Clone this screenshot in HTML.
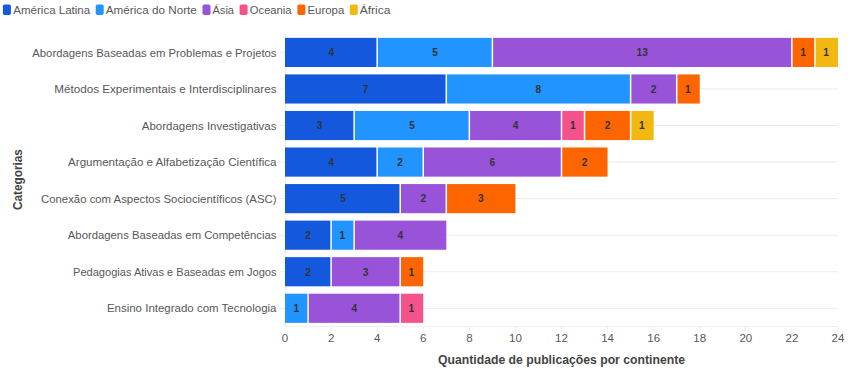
<!DOCTYPE html><html><head><meta charset="utf-8"><style>html,body{margin:0;padding:0;background:#fff;width:850px;height:370px;overflow:hidden}svg{display:block}</style></head><body>
<svg width="850" height="370" viewBox="0 0 850 370" style="font-family:'Liberation Sans', sans-serif">
<line x1="285.0" x2="838.0" y1="52.42" y2="52.42" stroke="#ebebeb" stroke-width="1"/>
<line x1="280" x2="285.0" y1="52.42" y2="52.42" stroke="#ebebeb" stroke-width="1"/>
<line x1="285.0" x2="838.0" y1="88.97" y2="88.97" stroke="#ebebeb" stroke-width="1"/>
<line x1="280" x2="285.0" y1="88.97" y2="88.97" stroke="#ebebeb" stroke-width="1"/>
<line x1="285.0" x2="838.0" y1="125.53" y2="125.53" stroke="#ebebeb" stroke-width="1"/>
<line x1="280" x2="285.0" y1="125.53" y2="125.53" stroke="#ebebeb" stroke-width="1"/>
<line x1="285.0" x2="838.0" y1="162.08" y2="162.08" stroke="#ebebeb" stroke-width="1"/>
<line x1="280" x2="285.0" y1="162.08" y2="162.08" stroke="#ebebeb" stroke-width="1"/>
<line x1="285.0" x2="838.0" y1="198.63" y2="198.63" stroke="#ebebeb" stroke-width="1"/>
<line x1="280" x2="285.0" y1="198.63" y2="198.63" stroke="#ebebeb" stroke-width="1"/>
<line x1="285.0" x2="838.0" y1="235.18" y2="235.18" stroke="#ebebeb" stroke-width="1"/>
<line x1="280" x2="285.0" y1="235.18" y2="235.18" stroke="#ebebeb" stroke-width="1"/>
<line x1="285.0" x2="838.0" y1="271.73" y2="271.73" stroke="#ebebeb" stroke-width="1"/>
<line x1="280" x2="285.0" y1="271.73" y2="271.73" stroke="#ebebeb" stroke-width="1"/>
<line x1="285.0" x2="838.0" y1="308.28" y2="308.28" stroke="#ebebeb" stroke-width="1"/>
<line x1="280" x2="285.0" y1="308.28" y2="308.28" stroke="#ebebeb" stroke-width="1"/>
<line x1="285.0" x2="838.0" y1="326.5" y2="326.5" stroke="#eeeeee" stroke-width="1"/>
<line x1="285.5" x2="285.5" y1="34" y2="326.5" stroke="#ebebeb" stroke-width="1"/>
<line x1="285.00" x2="285.00" y1="326.5" y2="332" stroke="#eeeeee" stroke-width="1"/>
<line x1="331.08" x2="331.08" y1="326.5" y2="332" stroke="#eeeeee" stroke-width="1"/>
<line x1="377.17" x2="377.17" y1="326.5" y2="332" stroke="#eeeeee" stroke-width="1"/>
<line x1="423.25" x2="423.25" y1="326.5" y2="332" stroke="#eeeeee" stroke-width="1"/>
<line x1="469.33" x2="469.33" y1="326.5" y2="332" stroke="#eeeeee" stroke-width="1"/>
<line x1="515.42" x2="515.42" y1="326.5" y2="332" stroke="#eeeeee" stroke-width="1"/>
<line x1="561.50" x2="561.50" y1="326.5" y2="332" stroke="#eeeeee" stroke-width="1"/>
<line x1="607.58" x2="607.58" y1="326.5" y2="332" stroke="#eeeeee" stroke-width="1"/>
<line x1="653.67" x2="653.67" y1="326.5" y2="332" stroke="#eeeeee" stroke-width="1"/>
<line x1="699.75" x2="699.75" y1="326.5" y2="332" stroke="#eeeeee" stroke-width="1"/>
<line x1="745.83" x2="745.83" y1="326.5" y2="332" stroke="#eeeeee" stroke-width="1"/>
<line x1="791.92" x2="791.92" y1="326.5" y2="332" stroke="#eeeeee" stroke-width="1"/>
<line x1="838.00" x2="838.00" y1="326.5" y2="332" stroke="#eeeeee" stroke-width="1"/>
<rect x="285.00" y="37.85" width="92.17" height="29.15" fill="#1459dd"/>
<text x="331.23" y="56.22" text-anchor="middle" font-size="10.2" font-weight="bold" fill="#333">4</text>
<rect x="377.17" y="37.85" width="115.21" height="29.15" fill="#2194ff"/>
<text x="435.17" y="56.22" text-anchor="middle" font-size="10.2" font-weight="bold" fill="#333">5</text>
<rect x="492.38" y="37.85" width="299.54" height="29.15" fill="#9853d9"/>
<text x="642.15" y="56.22" text-anchor="middle" font-size="10.2" font-weight="bold" fill="#333">13</text>
<rect x="791.92" y="37.85" width="23.04" height="29.15" fill="#fd6500"/>
<text x="803.14" y="56.22" text-anchor="middle" font-size="10.2" font-weight="bold" fill="#333">1</text>
<rect x="814.96" y="37.85" width="23.04" height="29.15" fill="#f2b711"/>
<text x="826.18" y="56.22" text-anchor="middle" font-size="10.2" font-weight="bold" fill="#333">1</text>
<line x1="377.17" x2="377.17" y1="37.35" y2="67.50" stroke="#fff" stroke-width="1.5"/>
<line x1="492.38" x2="492.38" y1="37.35" y2="67.50" stroke="#fff" stroke-width="1.5"/>
<line x1="791.92" x2="791.92" y1="37.35" y2="67.50" stroke="#fff" stroke-width="1.5"/>
<line x1="814.96" x2="814.96" y1="37.35" y2="67.50" stroke="#fff" stroke-width="1.5"/>
<text x="276.5" y="56.62" text-anchor="end" font-size="11.4" fill="#575757" textLength="244.2" lengthAdjust="spacingAndGlyphs">Abordagens Baseadas em Problemas e Projetos</text>
<rect x="285.00" y="74.40" width="161.29" height="29.15" fill="#1459dd"/>
<text x="365.65" y="92.77" text-anchor="middle" font-size="10.2" font-weight="bold" fill="#333">7</text>
<rect x="446.29" y="74.40" width="184.33" height="29.15" fill="#2194ff"/>
<text x="538.46" y="92.77" text-anchor="middle" font-size="10.2" font-weight="bold" fill="#333">8</text>
<rect x="630.62" y="74.40" width="46.08" height="29.15" fill="#9853d9"/>
<text x="653.67" y="92.77" text-anchor="middle" font-size="10.2" font-weight="bold" fill="#333">2</text>
<rect x="676.71" y="74.40" width="23.04" height="29.15" fill="#fd6500"/>
<text x="687.93" y="92.77" text-anchor="middle" font-size="10.2" font-weight="bold" fill="#333">1</text>
<line x1="446.29" x2="446.29" y1="73.90" y2="104.05" stroke="#fff" stroke-width="1.5"/>
<line x1="630.62" x2="630.62" y1="73.90" y2="104.05" stroke="#fff" stroke-width="1.5"/>
<line x1="676.71" x2="676.71" y1="73.90" y2="104.05" stroke="#fff" stroke-width="1.5"/>
<text x="276.5" y="93.17" text-anchor="end" font-size="11.4" fill="#575757" textLength="222.2" lengthAdjust="spacingAndGlyphs">Métodos Experimentais e Interdisciplinares</text>
<rect x="285.00" y="110.95" width="69.12" height="29.15" fill="#1459dd"/>
<text x="319.56" y="129.33" text-anchor="middle" font-size="10.2" font-weight="bold" fill="#333">3</text>
<rect x="354.12" y="110.95" width="115.21" height="29.15" fill="#2194ff"/>
<text x="412.13" y="129.33" text-anchor="middle" font-size="10.2" font-weight="bold" fill="#333">5</text>
<rect x="469.33" y="110.95" width="92.17" height="29.15" fill="#9853d9"/>
<text x="515.57" y="129.33" text-anchor="middle" font-size="10.2" font-weight="bold" fill="#333">4</text>
<rect x="561.50" y="110.95" width="23.04" height="29.15" fill="#f4528a"/>
<text x="572.72" y="129.33" text-anchor="middle" font-size="10.2" font-weight="bold" fill="#333">1</text>
<rect x="584.54" y="110.95" width="46.08" height="29.15" fill="#fd6500"/>
<text x="607.58" y="129.33" text-anchor="middle" font-size="10.2" font-weight="bold" fill="#333">2</text>
<rect x="630.62" y="110.95" width="23.04" height="29.15" fill="#f2b711"/>
<text x="641.85" y="129.33" text-anchor="middle" font-size="10.2" font-weight="bold" fill="#333">1</text>
<line x1="354.12" x2="354.12" y1="110.45" y2="140.60" stroke="#fff" stroke-width="1.5"/>
<line x1="469.33" x2="469.33" y1="110.45" y2="140.60" stroke="#fff" stroke-width="1.5"/>
<line x1="561.50" x2="561.50" y1="110.45" y2="140.60" stroke="#fff" stroke-width="1.5"/>
<line x1="584.54" x2="584.54" y1="110.45" y2="140.60" stroke="#fff" stroke-width="1.5"/>
<line x1="630.62" x2="630.62" y1="110.45" y2="140.60" stroke="#fff" stroke-width="1.5"/>
<text x="276.5" y="129.72" text-anchor="end" font-size="11.4" fill="#575757" textLength="134.7" lengthAdjust="spacingAndGlyphs">Abordagens Investigativas</text>
<rect x="285.00" y="147.50" width="92.17" height="29.15" fill="#1459dd"/>
<text x="331.23" y="165.88" text-anchor="middle" font-size="10.2" font-weight="bold" fill="#333">4</text>
<rect x="377.17" y="147.50" width="46.08" height="29.15" fill="#2194ff"/>
<text x="400.21" y="165.88" text-anchor="middle" font-size="10.2" font-weight="bold" fill="#333">2</text>
<rect x="423.25" y="147.50" width="138.25" height="29.15" fill="#9853d9"/>
<text x="492.38" y="165.88" text-anchor="middle" font-size="10.2" font-weight="bold" fill="#333">6</text>
<rect x="561.50" y="147.50" width="46.08" height="29.15" fill="#fd6500"/>
<text x="584.54" y="165.88" text-anchor="middle" font-size="10.2" font-weight="bold" fill="#333">2</text>
<line x1="377.17" x2="377.17" y1="147.00" y2="177.15" stroke="#fff" stroke-width="1.5"/>
<line x1="423.25" x2="423.25" y1="147.00" y2="177.15" stroke="#fff" stroke-width="1.5"/>
<line x1="561.50" x2="561.50" y1="147.00" y2="177.15" stroke="#fff" stroke-width="1.5"/>
<text x="276.5" y="166.28" text-anchor="end" font-size="11.4" fill="#575757" textLength="208.4" lengthAdjust="spacingAndGlyphs">Argumentação e Alfabetização Científica</text>
<rect x="285.00" y="184.05" width="115.21" height="29.15" fill="#1459dd"/>
<text x="343.00" y="202.43" text-anchor="middle" font-size="10.2" font-weight="bold" fill="#333">5</text>
<rect x="400.21" y="184.05" width="46.08" height="29.15" fill="#9853d9"/>
<text x="423.25" y="202.43" text-anchor="middle" font-size="10.2" font-weight="bold" fill="#333">2</text>
<rect x="446.29" y="184.05" width="69.13" height="29.15" fill="#fd6500"/>
<text x="480.85" y="202.43" text-anchor="middle" font-size="10.2" font-weight="bold" fill="#333">3</text>
<line x1="400.21" x2="400.21" y1="183.55" y2="213.70" stroke="#fff" stroke-width="1.5"/>
<line x1="446.29" x2="446.29" y1="183.55" y2="213.70" stroke="#fff" stroke-width="1.5"/>
<text x="276.5" y="202.83" text-anchor="end" font-size="11.4" fill="#575757" textLength="235.5" lengthAdjust="spacingAndGlyphs">Conexão com Aspectos Sociocientíficos (ASC)</text>
<rect x="285.00" y="220.60" width="46.08" height="29.15" fill="#1459dd"/>
<text x="308.04" y="238.98" text-anchor="middle" font-size="10.2" font-weight="bold" fill="#333">2</text>
<rect x="331.08" y="220.60" width="23.04" height="29.15" fill="#2194ff"/>
<text x="342.30" y="238.98" text-anchor="middle" font-size="10.2" font-weight="bold" fill="#333">1</text>
<rect x="354.12" y="220.60" width="92.17" height="29.15" fill="#9853d9"/>
<text x="400.36" y="238.98" text-anchor="middle" font-size="10.2" font-weight="bold" fill="#333">4</text>
<line x1="331.08" x2="331.08" y1="220.10" y2="250.25" stroke="#fff" stroke-width="1.5"/>
<line x1="354.12" x2="354.12" y1="220.10" y2="250.25" stroke="#fff" stroke-width="1.5"/>
<text x="276.5" y="239.38" text-anchor="end" font-size="11.4" fill="#575757" textLength="208.7" lengthAdjust="spacingAndGlyphs">Abordagens Baseadas em Competências</text>
<rect x="285.00" y="257.15" width="46.08" height="29.15" fill="#1459dd"/>
<text x="308.04" y="275.53" text-anchor="middle" font-size="10.2" font-weight="bold" fill="#333">2</text>
<rect x="331.08" y="257.15" width="69.13" height="29.15" fill="#9853d9"/>
<text x="365.65" y="275.53" text-anchor="middle" font-size="10.2" font-weight="bold" fill="#333">3</text>
<rect x="400.21" y="257.15" width="23.04" height="29.15" fill="#fd6500"/>
<text x="411.43" y="275.53" text-anchor="middle" font-size="10.2" font-weight="bold" fill="#333">1</text>
<line x1="331.08" x2="331.08" y1="256.65" y2="286.80" stroke="#fff" stroke-width="1.5"/>
<line x1="400.21" x2="400.21" y1="256.65" y2="286.80" stroke="#fff" stroke-width="1.5"/>
<text x="276.5" y="275.93" text-anchor="end" font-size="11.4" fill="#575757" textLength="203.5" lengthAdjust="spacingAndGlyphs">Pedagogias Ativas e Baseadas em Jogos</text>
<rect x="285.00" y="293.70" width="23.04" height="29.15" fill="#2194ff"/>
<text x="296.22" y="312.08" text-anchor="middle" font-size="10.2" font-weight="bold" fill="#333">1</text>
<rect x="308.04" y="293.70" width="92.17" height="29.15" fill="#9853d9"/>
<text x="354.27" y="312.08" text-anchor="middle" font-size="10.2" font-weight="bold" fill="#333">4</text>
<rect x="400.21" y="293.70" width="23.04" height="29.15" fill="#f4528a"/>
<text x="411.43" y="312.08" text-anchor="middle" font-size="10.2" font-weight="bold" fill="#333">1</text>
<line x1="308.04" x2="308.04" y1="293.20" y2="323.35" stroke="#fff" stroke-width="1.5"/>
<line x1="400.21" x2="400.21" y1="293.20" y2="323.35" stroke="#fff" stroke-width="1.5"/>
<text x="276.5" y="312.48" text-anchor="end" font-size="11.4" fill="#575757" textLength="169.6" lengthAdjust="spacingAndGlyphs">Ensino Integrado com Tecnologia</text>
<text x="285.00" y="341.6" text-anchor="middle" font-size="11.5" fill="#575757">0</text>
<text x="331.08" y="341.6" text-anchor="middle" font-size="11.5" fill="#575757">2</text>
<text x="377.17" y="341.6" text-anchor="middle" font-size="11.5" fill="#575757">4</text>
<text x="423.25" y="341.6" text-anchor="middle" font-size="11.5" fill="#575757">6</text>
<text x="469.33" y="341.6" text-anchor="middle" font-size="11.5" fill="#575757">8</text>
<text x="515.42" y="341.6" text-anchor="middle" font-size="11.5" fill="#575757">10</text>
<text x="561.50" y="341.6" text-anchor="middle" font-size="11.5" fill="#575757">12</text>
<text x="607.58" y="341.6" text-anchor="middle" font-size="11.5" fill="#575757">14</text>
<text x="653.67" y="341.6" text-anchor="middle" font-size="11.5" fill="#575757">16</text>
<text x="699.75" y="341.6" text-anchor="middle" font-size="11.5" fill="#575757">18</text>
<text x="745.83" y="341.6" text-anchor="middle" font-size="11.5" fill="#575757">20</text>
<text x="791.92" y="341.6" text-anchor="middle" font-size="11.5" fill="#575757">22</text>
<text x="838.00" y="341.6" text-anchor="middle" font-size="11.5" fill="#575757">24</text>
<text x="561.5" y="364.1" text-anchor="middle" font-size="12.2" font-weight="bold" fill="#444" textLength="247" lengthAdjust="spacingAndGlyphs">Quantidade de publicações por continente</text>
<text transform="translate(22.3,179.6) rotate(-90)" text-anchor="middle" font-size="12" font-weight="bold" fill="#444" textLength="61" lengthAdjust="spacingAndGlyphs">Categorias</text>
<g font-size="11.4" fill="#575757">
<rect x="2.9" y="4.4" width="8" height="10.6" rx="1.8" fill="#1459dd"/>
<text x="13.3" y="13.9" textLength="76.9" lengthAdjust="spacingAndGlyphs">América Latina</text>
<rect x="95.7" y="4.4" width="8" height="10.6" rx="1.8" fill="#2194ff"/>
<text x="105.8" y="13.9" textLength="91.1" lengthAdjust="spacingAndGlyphs">América do Norte</text>
<rect x="202.5" y="4.4" width="8" height="10.6" rx="1.8" fill="#9853d9"/>
<text x="212.5" y="13.9" textLength="21.5" lengthAdjust="spacingAndGlyphs">Ásia</text>
<rect x="239.6" y="4.4" width="8" height="10.6" rx="1.8" fill="#f4528a"/>
<text x="249.8" y="13.9" textLength="41.8" lengthAdjust="spacingAndGlyphs">Oceania</text>
<rect x="297.4" y="4.4" width="8" height="10.6" rx="1.8" fill="#fd6500"/>
<text x="307.5" y="13.9" textLength="36.8" lengthAdjust="spacingAndGlyphs">Europa</text>
<rect x="349.8" y="4.4" width="8" height="10.6" rx="1.8" fill="#f2b711"/>
<text x="359.7" y="13.9" textLength="30.8" lengthAdjust="spacingAndGlyphs">África</text>
</g>
</svg></body></html>
